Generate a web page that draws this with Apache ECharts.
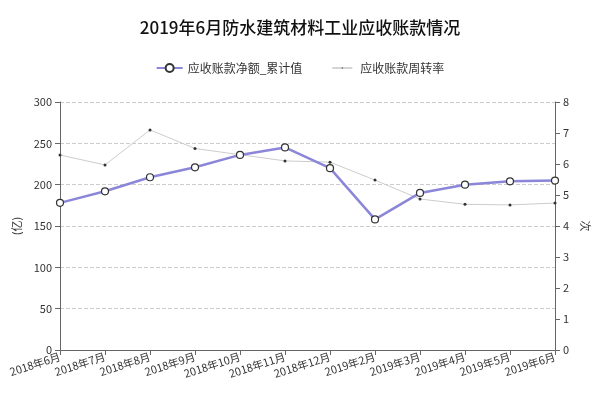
<!DOCTYPE html>
<html><head><meta charset="utf-8">
<script src="https://cdn.jsdelivr.net/npm/echarts@6/dist/echarts.min.js"></script>
<style>html,body{margin:0;padding:0;background:#fff}#c{width:600px;height:401px}</style>
</head><body><div id="c"></div>
<script>
const categories=['2018年6月','2018年7月','2018年8月','2018年9月','2018年10月','2018年11月','2018年12月','2019年2月','2019年3月','2019年4月','2019年5月','2019年6月'];
const receivables=[178,192,209,221,236,245,220,158,190,200,204,205];
const turnover=[6.29,5.97,7.1,6.5,6.3,6.1,6.06,5.48,4.87,4.7,4.68,4.74];
const chart=echarts.init(document.getElementById('c'));
const axLabel={color:'#333',fontSize:11,fontFamily:'Noto Sans CJK SC'};
chart.setOption({
 animation:false,
 title:{text:'2019年6月防水建筑材料工业应收账款情况',left:'center',top:14,textStyle:{fontSize:17,fontWeight:500,color:'#111',fontFamily:'Noto Sans CJK SC'}},
 legend:{top:57,left:'center',itemGap:30,itemWidth:26,itemHeight:10,textStyle:{fontSize:12,color:'#333',fontFamily:'Noto Sans CJK SC'},
  data:[
   {name:'应收账款净额_累计值'},
   {name:'应收账款周转率',icon:'path://M0,9.5L40,9.5L40,10.5L0,10.5Z M18,10a2,2 0 1,0 4,0a2,2 0 1,0 -4,0Z M20,0L20,0.1Z M20,20L20,19.9Z',itemStyle:{color:'#555',borderWidth:0}}
  ]},
 grid:{left:60,right:45,top:102,bottom:51},
 xAxis:{type:'category',boundaryGap:false,data:categories,
  axisLine:{lineStyle:{color:'#666'}},axisTick:{show:true,alignWithLabel:true},
  axisLabel:Object.assign({rotate:18,interval:0,margin:6},axLabel),splitLine:{show:false}},
 yAxis:[
  {type:'value',min:0,max:300,interval:50,name:'(亿)',nameLocation:'middle',nameGap:36,nameRotate:90,nameTextStyle:axLabel,
   axisLine:{show:true,lineStyle:{color:'#666'}},axisTick:{show:true},axisLabel:axLabel,
   splitLine:{lineStyle:{type:'dashed',color:'#ccc'}}},
  {type:'value',min:0,max:8,interval:1,name:'次',nameLocation:'middle',nameGap:22,nameRotate:-90,nameTextStyle:axLabel,
   axisLine:{show:true,lineStyle:{color:'#666'}},axisTick:{show:true},axisLabel:axLabel,splitLine:{show:false}}
 ],
 series:[
  {name:'应收账款净额_累计值',type:'line',data:receivables,yAxisIndex:0,symbol:'circle',symbolSize:7,
   lineStyle:{color:'#8b86d8',width:2.5},itemStyle:{color:'#fff',borderColor:'#333',borderWidth:1.2},z:3},
  {name:'应收账款周转率',type:'line',data:turnover,yAxisIndex:1,symbol:'circle',symbolSize:3,
   lineStyle:{color:'#ccc',width:1},itemStyle:{color:'#333'},z:2}
 ]
});
</script></body></html>
